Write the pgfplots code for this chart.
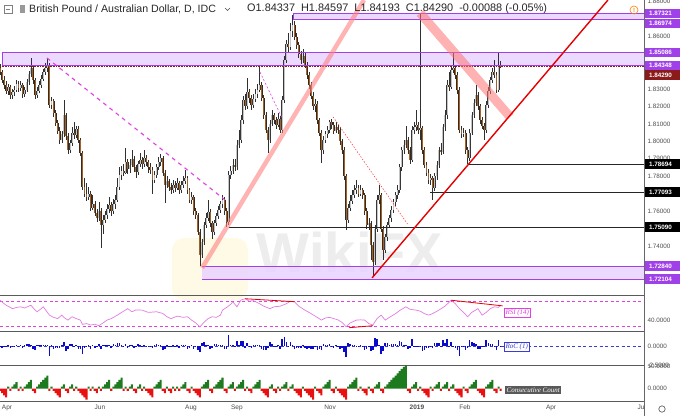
\documentclass[border=0pt]{standalone}
\usepackage{fontspec}
\setmainfont{Liberation Sans}
\newfontfamily\serifit{Liberation Serif}
\usepackage{pgfplots}
\usepackage{pgfplotstable}
\pgfplotsset{compat=1.18}

\definecolor{zonefill}{HTML}{E8D2FF}
\definecolor{lvl}{HTML}{A040E8}
\definecolor{wickc}{HTML}{303030}
\definecolor{upout}{HTML}{383838}
\definecolor{upfill}{HTML}{C4C4C4}
\definecolor{dnout}{HTML}{3A2A1A}
\definecolor{dnfill}{HTML}{A0622A}
\definecolor{curred}{HTML}{8B1A1A}
\definecolor{rsic}{HTML}{E27BE2}
\definecolor{rsidash}{HTML}{E040E0}
\definecolor{rocblue}{HTML}{0A0ACC}
\definecolor{ccgreen}{HTML}{1E7A1E}
\definecolor{ccred}{HTML}{E81010}
\definecolor{sepc}{HTML}{5A5A5A}

% i = bar index (trading days from late March 2018), o h l c = prices,
% r = RoC(1) in %, n = consecutive count
\pgfplotstableread{
i o h l c r n
0 1.8420 1.8445 1.8380 1.8397 -0.13 -1
1 1.8397 1.8410 1.8335 1.8350 -0.26 -2
2 1.8350 1.8372 1.8300 1.8323 -0.15 -3
3 1.8323 1.8345 1.8270 1.8290 -0.18 -4
4 1.8290 1.8330 1.8265 1.8310 0.11 1
5 1.8310 1.8325 1.8245 1.8266 -0.24 -1
6 1.8266 1.8300 1.8240 1.8280 0.08 1
7 1.8280 1.8315 1.8262 1.8294 0.08 2
8 1.8294 1.8352 1.8280 1.8330 0.20 3
9 1.8330 1.8345 1.8285 1.8305 -0.14 -1
10 1.8305 1.8345 1.8290 1.8323 0.10 1
11 1.8323 1.8335 1.8250 1.8270 -0.29 -1
12 1.8270 1.8312 1.8255 1.8294 0.13 1
13 1.8294 1.8360 1.8280 1.8340 0.25 2
14 1.8340 1.8405 1.8325 1.8385 0.25 3
15 1.8385 1.8480 1.8370 1.8420 0.19 4
16 1.8420 1.8432 1.8330 1.8350 -0.38 -1
17 1.8350 1.8365 1.8245 1.8266 -0.46 -2
18 1.8266 1.8310 1.8250 1.8290 0.13 1
19 1.8290 1.8345 1.8275 1.8323 0.18 2
20 1.8323 1.8380 1.8305 1.8360 0.20 3
21 1.8360 1.8415 1.8345 1.8395 0.19 4
22 1.8395 1.8450 1.8380 1.8420 0.14 5
23 1.8420 1.8480 1.8400 1.8438 0.10 6
24 1.8438 1.8450 1.8190 1.8208 -1.27 -1
25 1.8208 1.8255 1.8185 1.8230 0.12 1
26 1.8230 1.8245 1.8140 1.8160 -0.38 -1
27 1.8160 1.8180 1.8085 1.8105 -0.30 -2
28 1.8105 1.8125 1.8040 1.8060 -0.25 -3
29 1.8060 1.8080 1.7985 1.8008 -0.29 -4
30 1.8008 1.8060 1.7990 1.8040 0.18 1
31 1.8040 1.8237 1.8025 1.8151 0.61 2
32 1.8151 1.8165 1.8010 1.8030 -0.67 -1
33 1.8030 1.8045 1.7930 1.7950 -0.44 -2
34 1.7950 1.8010 1.7935 1.7990 0.22 1
35 1.7990 1.8080 1.7975 1.8050 0.33 2
36 1.8050 1.8110 1.8015 1.8036 -0.08 -1
37 1.8036 1.8090 1.8020 1.8070 0.19 1
38 1.8070 1.8085 1.7990 1.8008 -0.34 -1
39 1.8008 1.8020 1.7915 1.7933 -0.41 -2
40 1.7933 1.7945 1.7720 1.7738 -1.07 -3
41 1.7738 1.7790 1.7680 1.7700 -0.21 -4
42 1.7700 1.7760 1.7660 1.7680 -0.11 -5
43 1.7680 1.7740 1.7665 1.7700 0.11 1
44 1.7700 1.7715 1.7600 1.7620 -0.44 -1
45 1.7620 1.7690 1.7605 1.7640 0.11 1
46 1.7640 1.7660 1.7570 1.7589 -0.28 -1
47 1.7589 1.7610 1.7540 1.7560 -0.16 -2
48 1.7560 1.7650 1.7545 1.7600 0.22 1
49 1.7600 1.7615 1.7389 1.7521 -0.43 -1
50 1.7521 1.7580 1.7470 1.7550 0.16 1
51 1.7550 1.7600 1.7530 1.7578 0.15 2
52 1.7578 1.7640 1.7555 1.7610 0.18 3
53 1.7610 1.7680 1.7590 1.7635 0.14 4
54 1.7635 1.7650 1.7570 1.7600 -0.19 -1
55 1.7600 1.7670 1.7585 1.7640 0.22 1
56 1.7640 1.7690 1.7610 1.7664 0.13 2
57 1.7664 1.7790 1.7650 1.7740 0.42 3
58 1.7740 1.7850 1.7720 1.7807 0.37 4
59 1.7807 1.7860 1.7780 1.7830 0.13 5
60 1.7830 1.7870 1.7800 1.7820 -0.06 -1
61 1.7820 1.7960 1.7810 1.7882 0.34 1
62 1.7882 1.7900 1.7815 1.7840 -0.23 -1
63 1.7840 1.7900 1.7820 1.7865 0.14 1
64 1.7865 1.7950 1.7850 1.7900 0.19 2
65 1.7900 1.7915 1.7825 1.7850 -0.28 -1
66 1.7850 1.7865 1.7790 1.7824 -0.14 -2
67 1.7824 1.7890 1.7805 1.7870 0.25 1
68 1.7870 1.7935 1.7850 1.7893 0.13 2
69 1.7893 1.7910 1.7840 1.7870 -0.13 -1
70 1.7870 1.7950 1.7855 1.7905 0.19 1
71 1.7905 1.7920 1.7860 1.7880 -0.14 -1
72 1.7880 1.7895 1.7820 1.7850 -0.17 -2
73 1.7850 1.7875 1.7810 1.7836 -0.08 -3
74 1.7836 1.7850 1.7700 1.7780 -0.31 -4
75 1.7780 1.7830 1.7760 1.7807 0.15 1
76 1.7807 1.7870 1.7790 1.7850 0.24 2
77 1.7850 1.7910 1.7835 1.7880 0.17 3
78 1.7880 1.7925 1.7860 1.7905 0.14 4
79 1.7905 1.7915 1.7800 1.7820 -0.47 -1
80 1.7820 1.7835 1.7647 1.7750 -0.39 -2
81 1.7750 1.7800 1.7730 1.7770 0.11 1
82 1.7770 1.7785 1.7715 1.7740 -0.17 -1
83 1.7740 1.7760 1.7700 1.7721 -0.10 -2
84 1.7721 1.7780 1.7705 1.7750 0.16 1
85 1.7750 1.7770 1.7710 1.7733 -0.09 -1
86 1.7733 1.7790 1.7720 1.7760 0.15 1
87 1.7760 1.7775 1.7700 1.7721 -0.21 -1
88 1.7721 1.7775 1.7705 1.7750 0.16 1
89 1.7750 1.7800 1.7735 1.7770 0.11 2
90 1.7770 1.7836 1.7755 1.7790 0.11 3
91 1.7790 1.7800 1.7700 1.7720 -0.39 -1
92 1.7720 1.7735 1.7645 1.7664 -0.31 -2
93 1.7664 1.7710 1.7640 1.7680 0.09 1
94 1.7680 1.7695 1.7580 1.7600 -0.44 -1
95 1.7600 1.7620 1.7555 1.7578 -0.12 -2
96 1.7578 1.7590 1.7460 1.7480 -0.54 -3
97 1.7480 1.7495 1.7286 1.7349 -0.72 -4
98 1.7349 1.7440 1.7330 1.7420 0.39 1
99 1.7420 1.7540 1.7405 1.7521 0.56 2
100 1.7521 1.7590 1.7505 1.7560 0.21 3
101 1.7560 1.7664 1.7545 1.7595 0.19 4
102 1.7595 1.7610 1.7510 1.7530 -0.36 -1
103 1.7530 1.7545 1.7440 1.7481 -0.27 -2
104 1.7481 1.7550 1.7465 1.7530 0.27 1
105 1.7530 1.7590 1.7515 1.7570 0.22 2
106 1.7570 1.7630 1.7555 1.7607 0.20 3
107 1.7607 1.7660 1.7590 1.7640 0.18 4
108 1.7640 1.7693 1.7620 1.7664 0.13 5
109 1.7664 1.7680 1.7580 1.7600 -0.35 -1
110 1.7600 1.7615 1.7509 1.7538 -0.34 -2
111 1.7538 1.7830 1.7520 1.7807 1.48 1
112 1.7807 1.7860 1.7785 1.7830 0.13 2
113 1.7830 1.7900 1.7810 1.7865 0.19 3
114 1.7865 1.7900 1.7830 1.7850 -0.08 -1
115 1.7850 1.8010 1.7835 1.7980 0.72 1
116 1.7980 1.8065 1.7960 1.8008 0.15 2
117 1.8008 1.8150 1.7990 1.8120 0.62 3
118 1.8120 1.8260 1.8100 1.8237 0.64 4
119 1.8237 1.8270 1.8180 1.8200 -0.20 -1
120 1.8200 1.8363 1.8185 1.8283 0.46 1
121 1.8283 1.8300 1.8220 1.8250 -0.18 -1
122 1.8250 1.8265 1.8180 1.8208 -0.23 -2
123 1.8208 1.8270 1.8190 1.8240 0.18 1
124 1.8240 1.8300 1.8225 1.8270 0.17 2
125 1.8270 1.8330 1.8250 1.8294 0.13 3
126 1.8294 1.8437 1.8280 1.8323 0.16 4
127 1.8323 1.8340 1.8230 1.8250 -0.40 -1
128 1.8250 1.8265 1.8130 1.8150 -0.55 -2
129 1.8150 1.8170 1.8045 1.8065 -0.47 -3
130 1.8065 1.8080 1.7935 1.8008 -0.31 -4
131 1.8008 1.8120 1.7990 1.8100 0.51 1
132 1.8100 1.8180 1.8085 1.8151 0.28 2
133 1.8151 1.8165 1.8100 1.8120 -0.17 -1
134 1.8120 1.8140 1.8070 1.8094 -0.14 -2
135 1.8094 1.8160 1.8080 1.8130 0.20 1
136 1.8130 1.8145 1.8045 1.8065 -0.36 -1
137 1.8065 1.8260 1.8050 1.8237 0.95 1
138 1.8237 1.8490 1.8220 1.8466 1.26 2
139 1.8466 1.8580 1.8450 1.8560 0.51 3
140 1.8560 1.8620 1.8510 1.8540 -0.11 -1
141 1.8540 1.8680 1.8525 1.8630 0.50 1
142 1.8630 1.8724 1.8600 1.8667 0.20 2
143 1.8667 1.8690 1.8580 1.8600 -0.37 -1
144 1.8600 1.8620 1.8530 1.8552 -0.26 -2
145 1.8552 1.8570 1.8480 1.8500 -0.29 -3
146 1.8500 1.8520 1.8445 1.8466 -0.19 -4
147 1.8466 1.8530 1.8450 1.8490 0.13 1
148 1.8490 1.8505 1.8420 1.8438 -0.29 -1
149 1.8438 1.8455 1.8360 1.8380 -0.32 -2
150 1.8380 1.8395 1.8300 1.8323 -0.31 -3
151 1.8323 1.8340 1.8240 1.8260 -0.35 -4
152 1.8260 1.8280 1.8180 1.8200 -0.33 -5
153 1.8200 1.8240 1.8170 1.8215 0.08 1
154 1.8215 1.8230 1.8100 1.8122 -0.51 -1
155 1.8122 1.8135 1.8030 1.8050 -0.40 -2
156 1.8050 1.8065 1.7876 1.7950 -0.55 -3
157 1.7950 1.8030 1.7930 1.8010 0.33 1
158 1.8010 1.8060 1.7990 1.8040 0.17 2
159 1.8040 1.8090 1.8020 1.8065 0.14 3
160 1.8065 1.8125 1.8045 1.8110 0.25 4
161 1.8110 1.8130 1.8070 1.8094 -0.09 -1
162 1.8094 1.8110 1.8040 1.8060 -0.19 -2
163 1.8060 1.8110 1.8045 1.8080 0.11 1
164 1.8080 1.8095 1.8040 1.8065 -0.08 -1
165 1.8065 1.8080 1.7980 1.8000 -0.36 -2
166 1.8000 1.8015 1.7930 1.7950 -0.28 -3
167 1.7950 1.7965 1.7780 1.7800 -0.83 -4
168 1.7800 1.7815 1.7492 1.7549 -1.38 -5
169 1.7549 1.7640 1.7530 1.7620 0.39 1
170 1.7620 1.7690 1.7600 1.7660 0.22 2
171 1.7660 1.7720 1.7640 1.7693 0.18 3
172 1.7693 1.7750 1.7675 1.7720 0.15 4
173 1.7720 1.7779 1.7700 1.7733 0.07 5
174 1.7733 1.7750 1.7680 1.7700 -0.18 -1
175 1.7700 1.7750 1.7685 1.7720 0.11 1
176 1.7720 1.7735 1.7670 1.7693 -0.15 -1
177 1.7693 1.7705 1.7580 1.7600 -0.51 -2
178 1.7600 1.7615 1.7500 1.7521 -0.43 -3
179 1.7521 1.7560 1.7490 1.7530 0.05 1
180 1.7530 1.7545 1.7320 1.7406 -0.68 -1
181 1.7406 1.7420 1.7223 1.7309 -0.54 -2
182 1.7309 1.7520 1.7290 1.7500 1.05 1
183 1.7500 1.7690 1.7480 1.7664 0.90 2
184 1.7664 1.7750 1.7640 1.7693 0.16 3
185 1.7693 1.7705 1.7480 1.7500 -1.06 -1
186 1.7500 1.7515 1.7320 1.7377 -0.68 -2
187 1.7377 1.7470 1.7360 1.7450 0.40 1
188 1.7450 1.7540 1.7430 1.7521 0.39 2
189 1.7521 1.7580 1.7505 1.7560 0.21 3
190 1.7560 1.7630 1.7540 1.7607 0.26 4
191 1.7607 1.7670 1.7590 1.7650 0.24 5
192 1.7650 1.7710 1.7630 1.7690 0.22 6
193 1.7690 1.7750 1.7670 1.7721 0.17 7
194 1.7721 1.7870 1.7705 1.7850 0.71 8
195 1.7850 1.7970 1.7830 1.7950 0.55 9
196 1.7950 1.8010 1.7930 1.7980 0.17 10
197 1.7980 1.8090 1.7960 1.8008 0.15 11
198 1.8008 1.8025 1.7930 1.7950 -0.32 -1
199 1.7950 1.7965 1.7870 1.7893 -0.31 -2
200 1.7893 1.8090 1.7880 1.8065 0.95 1
201 1.8065 1.8110 1.8040 1.8080 0.08 2
202 1.8080 1.8180 1.8060 1.8094 0.08 3
203 1.8094 1.8110 1.8040 1.8065 -0.16 -1
204 1.8065 1.8729 1.8010 1.8076 0.06 1
205 1.8076 1.8090 1.7930 1.7950 -0.69 -1
206 1.7950 1.7965 1.7845 1.7865 -0.47 -2
207 1.7865 1.7880 1.7800 1.7820 -0.25 -3
208 1.7820 1.7840 1.7755 1.7779 -0.23 -4
209 1.7779 1.7810 1.7750 1.7790 0.06 1
210 1.7790 1.7800 1.7664 1.7733 -0.31 -1
211 1.7733 1.7820 1.7715 1.7800 0.37 1
212 1.7800 1.7885 1.7780 1.7865 0.36 2
213 1.7865 1.7970 1.7845 1.7950 0.47 3
214 1.7950 1.7990 1.7920 1.7940 -0.06 -1
215 1.7940 1.8100 1.7925 1.8080 0.77 1
216 1.8080 1.8180 1.8060 1.8151 0.39 2
217 1.8151 1.8350 1.8130 1.8323 0.95 3
218 1.8323 1.8400 1.8290 1.8310 -0.07 -1
219 1.8310 1.8440 1.8300 1.8409 0.54 1
220 1.8409 1.8509 1.8390 1.8420 0.06 2
221 1.8420 1.8435 1.8360 1.8380 -0.22 -1
222 1.8380 1.8395 1.8270 1.8294 -0.47 -2
223 1.8294 1.8310 1.8045 1.8065 -1.26 -3
224 1.8065 1.8090 1.8020 1.8040 -0.14 -4
225 1.8040 1.8075 1.8025 1.8050 0.06 1
226 1.8050 1.8065 1.7930 1.7950 -0.55 -1
227 1.7950 1.7965 1.7870 1.7905 -0.25 -2
228 1.7905 1.8070 1.7890 1.8050 0.80 1
229 1.8050 1.8170 1.8035 1.8151 0.56 2
230 1.8151 1.8240 1.8135 1.8220 0.38 3
231 1.8220 1.8323 1.8200 1.8266 0.25 4
232 1.8266 1.8280 1.8180 1.8200 -0.36 -1
233 1.8200 1.8215 1.8100 1.8122 -0.43 -2
234 1.8122 1.8140 1.8070 1.8090 -0.18 -3
235 1.8090 1.8105 1.8008 1.8065 -0.14 -4
236 1.8065 1.8230 1.8050 1.8208 0.79 1
237 1.8208 1.8310 1.8190 1.8290 0.45 2
238 1.8290 1.8370 1.8270 1.8352 0.34 3
239 1.8352 1.8420 1.8335 1.8400 0.26 4
240 1.8400 1.8466 1.8365 1.8380 -0.11 -1
241 1.8380 1.8395 1.8275 1.8294 -0.47 -2
242 1.8294 1.8505 1.8280 1.8434 0.77 1
243 1.8434 1.8460 1.8419 1.8429 -0.03 -1
}\bars

\pgfplotstableread{
i v
0 71.6
2 66
3 63.6
5 60
6 58
8 60
10 61
12 59
15 63.6
17 56
18 53
20 58
21 61
23 52
24 47.6
26 44
28 42
30 47.6
31 44
33 39.6
35 45
37 42
39 39.6
40 32.7
42 34
44 31.6
46 33
48 30.5
50 35
52 39.6
54 42
57 47.6
59 52
62 58
64 53
66 56
69 55.6
72 52
76 53
79 50.3
81 45
83 42
86 46
89 44
91 45
93 39.6
95 35
97 28.4
99 36
101 42
103 45
105 44
107 47.6
108 55.6
110 60
112 65
113 69
115 61
117 72
119 74
121 70
123 71
126 66
128 62
131 58
133 61
136 62
139 66
141 70
143 69
145 62
148 55.6
150 52
153 46
156 39.6
158 43
160 44
162 42
164 40
166 36
168 29
170 35
173 39.6
175 40
177 39.6
179 34
181 31.6
183 42
185 47.6
187 39.6
189 44
192 50
194 55
197 61
199 57
202 55.6
204 54
206 50
208 47.6
210 50
213 55.6
216 62
219 71.6
221 66
223 58
225 52
227 45
229 52
232 58
234 47.6
236 52
238 58
240 61
242 60
243 63.6
}\rsi

\pgfplotsset{
  panel/.style={
    scale only axis, width=644pt, xmin=0, xmax=312.6,
    anchor=north west,
    axis line style={draw=none}, tick style={draw=none},
    yticklabel pos=right,
    yticklabel style={font=\fontsize{6.3}{7}\selectfont, text=black!70, anchor=west},
    /pgf/number format/assume math mode=true,
  },
  candle/.style 2 args={draw=none, mark=none, forget plot,
    error bars/y dir=both, error bars/y explicit, error bars/error mark=none,
    error bars/error bar style={draw=#1, line width=#2}},
}
\tikzset{
  lvllab/.style={anchor=west, fill=#1, text=white, inner xsep=4pt, inner ysep=0pt,
    minimum height=9.5pt, text width=30pt,
    font=\fontsize{6.3}{7}\selectfont\bfseries},
}

\begin{document}
\begin{tikzpicture}[x=1pt,y=1pt]
\useasboundingbox (0,0) rectangle (680,-416);

% watermark
\fill[yellow!70!orange, opacity=0.10, rounded corners=12pt] (172,-238) rectangle (248,-300);
\node[font=\fontsize{56}{56}\selectfont\bfseries, text=black, opacity=0.07] at (350,-252) {WikiFX};

% ---------------- main price panel ----------------
\begin{axis}[panel, at={(0pt,0pt)}, height=295pt,
  ymin=1.71188, ymax=1.88103, xtick=\empty,
  ytick={1.74,1.76,1.78,1.79,1.80,1.81,1.82,1.83,1.86,1.88},
  yticklabels={1.74000,1.76000,1.78000,1.79000,1.80000,1.81000,1.82000,1.83000,1.86000,1.88000}]
  % zones
  \fill[zonefill, opacity=0.85] (axis cs:142.2,1.86974) rectangle (axis cs:312.6,1.87321);
  \fill[zonefill, opacity=0.85] (axis cs:1,1.84348) rectangle (axis cs:312.6,1.85086);
  \fill[zonefill, opacity=0.85] (axis cs:98.1,1.72104) rectangle (axis cs:312.6,1.72840);

  % candles: wicks, then bodies
  \addplot[candle={wickc}{0.5pt}] table[x=i, y expr={0.5*(\thisrow{h}+\thisrow{l})},
    y error expr={0.5*(\thisrow{h}-\thisrow{l})}] {\bars};
  \addplot[candle={upout}{1.9pt}, restrict expr to domain={\thisrow{c}-\thisrow{o}}{0:1}]
    table[x=i, y expr={0.5*(\thisrow{o}+\thisrow{c})}, y error expr={0.5*abs(\thisrow{c}-\thisrow{o})}] {\bars};
  \addplot[candle={upfill}{1.0pt}, restrict expr to domain={\thisrow{c}-\thisrow{o}}{0:1}]
    table[x=i, y expr={0.5*(\thisrow{o}+\thisrow{c})}, y error expr={0.5*abs(\thisrow{c}-\thisrow{o})}] {\bars};
  \addplot[candle={dnout}{1.9pt}, restrict expr to domain={\thisrow{c}-\thisrow{o}}{-1:0}]
    table[x=i, y expr={0.5*(\thisrow{o}+\thisrow{c})}, y error expr={0.5*abs(\thisrow{c}-\thisrow{o})}] {\bars};
  \addplot[candle={dnfill}{1.0pt}, restrict expr to domain={\thisrow{c}-\thisrow{o}}{-1:0}]
    table[x=i, y expr={0.5*(\thisrow{o}+\thisrow{c})}, y error expr={0.5*abs(\thisrow{c}-\thisrow{o})}] {\bars};

  % zone borders and levels
  \draw[lvl, line width=0.8pt] (axis cs:142.2,1.86974) -- (axis cs:312.6,1.86974);
  \draw[lvl, line width=0.8pt] (axis cs:142.2,1.87321) -- (axis cs:312.6,1.87321);
  \draw[lvl, line width=0.8pt] (axis cs:142.2,1.86974) -- (axis cs:142.2,1.87321);
  \draw[lvl, line width=0.8pt] (axis cs:1,1.85086) -- (axis cs:312.6,1.85086);
  \draw[lvl, line width=0.8pt] (axis cs:1,1.84348) -- (axis cs:312.6,1.84348);
  \draw[lvl, line width=0.8pt] (axis cs:1,1.84348) -- (axis cs:1,1.85086);
  \draw[lvl, line width=0.8pt] (axis cs:98.1,1.72840) -- (axis cs:312.6,1.72840);
  \draw[lvl, line width=0.8pt] (axis cs:98.1,1.72104) -- (axis cs:312.6,1.72104);
  \draw[curred, densely dotted, line width=0.6pt] (axis cs:0,1.84290) -- (axis cs:312.6,1.84290);
  \draw[black!85, line width=0.8pt] (axis cs:227.2,1.78694) -- (axis cs:312.6,1.78694);
  \draw[black!85, line width=0.8pt] (axis cs:208.7,1.77093) -- (axis cs:312.6,1.77093);
  \draw[black!85, line width=0.8pt] (axis cs:111.2,1.75090) -- (axis cs:312.6,1.75090);

  % trend lines
  \draw[red!50!white, opacity=0.6, line width=4.5pt] (axis cs:98.1,1.7274) -- (axis cs:176.7,1.8810);
  \draw[red!55!white, opacity=0.55, line width=9pt] (axis cs:203.9,1.8736) -- (axis cs:247.6,1.8140);
  \draw[red!90!black, line width=1.4pt] (axis cs:180.6,1.7217) -- (axis cs:295.1,1.8810);
  \draw[rsidash, line width=1.1pt, dash pattern=on 4pt off 4pt] (axis cs:22.8,1.8478) -- (axis cs:109.2,1.7664);
  \draw[rsidash, line width=0.6pt, dash pattern=on 2pt off 2pt] (axis cs:126.2,1.8397) -- (axis cs:136.9,1.8134);
  \draw[red!80, line width=0.5pt, dash pattern=on 1.5pt off 1.5pt] (axis cs:161.7,1.8140) -- (axis cs:198.1,1.7521);

  \coordinate (a1) at (axis cs:312.6,1.87321);
  \coordinate (a2) at (axis cs:312.6,1.86974);
  \coordinate (a3) at (axis cs:312.6,1.85086);
  \coordinate (a4) at (axis cs:312.6,1.84348);
  \coordinate (a5) at (axis cs:312.6,1.84290);
  \coordinate (a6) at (axis cs:312.6,1.78694);
  \coordinate (a7) at (axis cs:312.6,1.77093);
  \coordinate (a8) at (axis cs:312.6,1.75090);
  \coordinate (a9) at (axis cs:312.6,1.72840);
  \coordinate (a10) at (axis cs:312.6,1.72104);
\end{axis}

\node[lvllab=lvl] at ([xshift=1pt]a1) {1.87321};
\node[lvllab=lvl] at ([xshift=1pt,yshift=-4pt]a2) {1.86974};
\node[lvllab=lvl] at ([xshift=1pt]a3) {1.85086};
\node[lvllab=lvl] at ([xshift=1pt]a4) {1.84348};
\node[lvllab=curred] at ([xshift=1pt,yshift=-8.5pt]a5) {1.84290};
\node[lvllab=black] at ([xshift=1pt]a6) {1.78694};
\node[lvllab=black] at ([xshift=1pt]a7) {1.77093};
\node[lvllab=black] at ([xshift=1pt]a8) {1.75090};
\node[lvllab=lvl] at ([xshift=1pt]a9) {1.72840};
\node[lvllab=lvl] at ([xshift=1pt]a10) {1.72104};

% ---------------- RSI ----------------
\begin{axis}[panel, at={(0pt,-295pt)}, height=36pt, ymin=22, ymax=80, xtick=\empty,
  ytick={40}, yticklabels={40.0000}]
  \draw[rsidash, line width=0.6pt, dash pattern=on 3pt off 2.5pt] (axis cs:0,70) -- (axis cs:312.6,70);
  \draw[rsidash, line width=0.6pt, dash pattern=on 3pt off 2.5pt] (axis cs:0,30) -- (axis cs:312.6,30);
  \addplot[rsic, line width=0.7pt, mark=none] table[x=i, y=v] {\rsi};
  \draw[red!90!black, line width=0.8pt] (axis cs:119,74) -- (axis cs:143,69.2);
  \draw[red!90!black, line width=0.8pt] (axis cs:169.4,27.3) -- (axis cs:181,30.5);
  \draw[red!90!black, line width=0.8pt] (axis cs:219,71.6) -- (axis cs:244,62.5);
\end{axis}
\node[draw=rsidash, fill=white, text=rsidash, inner sep=1.3pt, anchor=west,
  font=\fontsize{7}{8}\selectfont\serifit\itshape] at (504,-312.5) {RSI (14)};

% ---------------- RoC ----------------
\begin{axis}[panel, at={(0pt,-331pt)}, height=34pt, ymin=-2.5, ymax=2.0, xtick=\empty,
  ytick={-2.5,0}, yticklabels={-2.5000,0.0000}]
  \draw[rocblue!80, line width=0.6pt, dash pattern=on 3pt off 2.5pt] (axis cs:0,0) -- (axis cs:312.6,0);
  \addplot[ycomb, rocblue, line width=1.5pt, mark=none] table[x=i, y=r] {\bars};
\end{axis}
\node[draw=rocblue!80, fill=white, text=rocblue!80, inner sep=1.3pt, anchor=west,
  font=\fontsize{7}{8}\selectfont\serifit\itshape] at (504,-347) {RoC (1)};

% ---------------- Consecutive count ----------------
\begin{axis}[panel, at={(0pt,-365pt)}, height=36pt, ymin=-5.6, ymax=10.8,
  ytick={0,10}, yticklabels={0.0000,10.0000},
  xtick={3.4,48.5,92.7,115,160.2,202.4,225.7,267.5,312.1},
  xticklabels={Apr,Jun,Aug,Sep,Nov,\textbf{2019},Feb,Apr,Jun},
  xticklabel style={font=\fontsize{6.5}{7}\selectfont, text=black!70}]
  \addplot[ybar, bar width=1, bar shift=0pt, fill=ccgreen, draw=none,
    restrict y to domain=0.5:20] table[x=i, y=n] {\bars};
  \addplot[ybar, bar width=1, bar shift=0pt, fill=ccred, draw=none,
    restrict y to domain=-20:-0.5] table[x=i, y=n] {\bars};
\end{axis}
\node[fill=black!65, text=white, inner sep=1.5pt, anchor=west,
  font=\fontsize{7}{8}\selectfont\serifit\itshape] at (505,-390) {Consecutive Count};

% separators
\draw[sepc, line width=0.9pt] (0,-295) -- (644,-295);
\draw[sepc, line width=0.9pt] (0,-331) -- (644,-331);
\draw[sepc, line width=0.9pt] (0,-365) -- (644,-365);
\draw[sepc, line width=0.9pt] (0,-401) -- (644,-401);
\fill[white] (644.5,-401.5) rectangle (680,-416);
\draw[black!60, line width=0.6pt] (644,0) -- (644,-416);
\draw[black!60, line width=0.7pt] (662,-409) circle (3.2);
\fill[white] (662,-409) circle (1.2);

% header
\draw[black!50, line width=0.5pt] (4,-5) rectangle (12,-13);
\draw[black!50, line width=0.5pt] (6,-9) -- (10,-9);
\fill[black!40] (20,-5) rectangle (25,-13);
\node[anchor=west, inner sep=0pt, text=black!85, font=\fontsize{10.6}{12}\selectfont] at (29,-9)
  {British Pound / Australian Dollar, D, IDC};
\draw[black!70, line width=0.5pt] (225,-8) -- (227.5,-10.5) -- (230,-8);
\node[anchor=west, inner sep=0pt, text=black!85, font=\fontsize{10.9}{12}\selectfont] at (247,-9)
  {O1.84337\ \ H1.84597\ \ L1.84193\ \ C1.84290\ \ -0.00088 (-0.05\%)};
\draw[orange, line width=0.6pt] (634,-10) circle (4);
\node[text=orange, font=\fontsize{6}{6}\selectfont\bfseries, inner sep=0pt] at (634,-10) {!};
\end{tikzpicture}
\end{document}
